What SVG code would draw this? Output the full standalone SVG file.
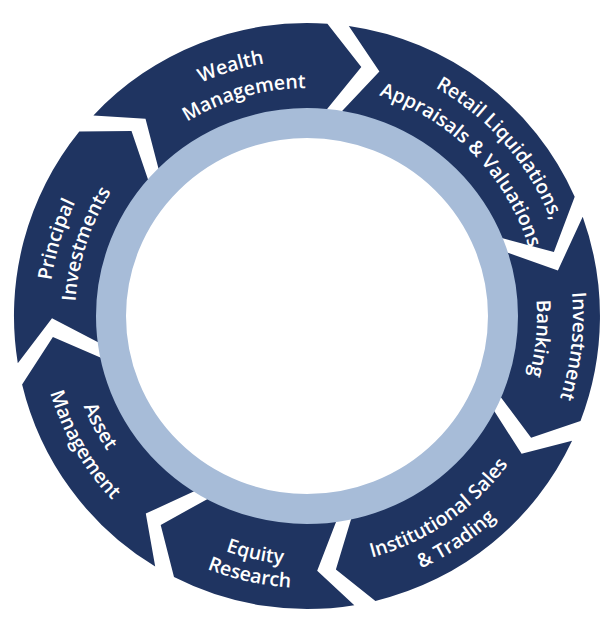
<svg xmlns="http://www.w3.org/2000/svg" width="602" height="619" viewBox="0 0 602 619">
<style>
.seg{fill:#1f3461}
.lbl{fill:#ffffff;font-family:"Open Sans","Liberation Sans",sans-serif;font-weight:600;font-size:19.5px;text-anchor:middle}
.ring{fill:none;stroke:#a7bcd8;stroke-width:30}
</style>
<defs>
<path id="cw256" d="M51,316 A256,256 0 0 1 563,316"/>
<path id="cw228" d="M79,316 A228,228 0 0 1 535,316"/>
<path id="cw262" d="M45,316 A262,262 0 0 1 569,316"/>
<path id="cw232" d="M75,316 A232,232 0 0 1 539,316"/>
<path id="cw266" d="M41,316 A266,266 0 0 1 573,316"/>
<path id="cw230" d="M77,316 A230,230 0 0 1 537,316"/>
<path id="cw258" d="M49,316 A258,258 0 0 1 565,316"/>
<path id="ccw250" d="M57,316 A250,250 0 0 0 557,316"/>
<path id="ccw277" d="M30,316 A277,277 0 0 0 584,316"/>
<path id="ccw249" d="M58,316 A249,249 0 0 0 556,316"/>
<path id="ccw272" d="M35,316 A272,272 0 0 0 579,316"/>
<path id="ccw241" d="M66,316 A241,241 0 0 0 548,316"/>
<path id="ccw268" d="M39,316 A268,268 0 0 0 575,316"/>
</defs>
<g id="wealth-management">
<path class="seg" d="M93.4,115.4 A293,293 0 0 1 327.4,23.7 L361.3,66.9 L321.0,116.5 A200,200 0 0 0 161.2,179.1 L145.5,118.7 Z"/>
<text class="lbl" transform="rotate(-17 307 316)"><textPath href="#cw256" startOffset="50%">Wealth</textPath></text>
<text class="lbl" transform="rotate(-16 307 316)"><textPath href="#cw228" startOffset="50%">Management</textPath></text>
</g>
<g id="retail-liquidations">
<path class="seg" d="M348.8,26.0 A293,293 0 0 1 574.7,196.8 L553.9,252.1 L489.7,234.7 A200,200 0 0 0 335.5,118.0 L379.4,71.5 Z"/>
<text class="lbl" transform="rotate(49 307 316)"><textPath href="#cw262" startOffset="50%">Retail Liquidations,</textPath></text>
<text class="lbl" transform="rotate(45.5 307 316)"><textPath href="#cw232" startOffset="50%">Appraisals &amp; Valuations</textPath></text>
</g>
<g id="investment-banking">
<path class="seg" d="M582.7,216.8 A293,293 0 0 1 580.5,421.0 L531.1,437.7 L493.7,387.7 A200,200 0 0 0 495.2,248.3 L557.9,270.4 Z"/>
<text class="lbl" transform="rotate(96.5 307 316)"><textPath href="#cw266" startOffset="50%">Investment</textPath></text>
<text class="lbl" transform="rotate(95.5 307 316)"><textPath href="#cw230" startOffset="50%">Banking</textPath></text>
</g>
<g id="institutional-sales-trading">
<path class="seg" d="M572.1,440.8 A293,293 0 0 1 375.4,600.9 L335.9,569.4 L353.7,510.5 A200,200 0 0 0 488.0,401.2 L521.6,453.8 Z"/>
<text class="lbl" transform="rotate(-34.3 307 316)"><textPath href="#ccw250" startOffset="50%">Institutional Sales</textPath></text>
<text class="lbl" transform="rotate(-33.7 307 316)"><textPath href="#ccw277" startOffset="50%">&amp; Trading</textPath></text>
</g>
<g id="equity-research">
<path class="seg" d="M354.3,605.2 A293,293 0 0 1 174.0,577.1 L160.7,524.9 L216.2,494.2 A200,200 0 0 0 339.3,513.4 L317.2,570.8 Z"/>
<text class="lbl" transform="rotate(12.3 307 316)"><textPath href="#ccw249" startOffset="50%">Equity</textPath></text>
<text class="lbl" transform="rotate(12.5 307 316)"><textPath href="#ccw272" startOffset="50%">Research</textPath></text>
</g>
<g id="asset-management">
<path class="seg" d="M155.2,566.6 A293,293 0 0 1 22.1,384.4 L52.9,336.9 L112.5,362.7 A200,200 0 0 0 203.4,487.1 L145.8,513.6 Z"/>
<text class="lbl" transform="rotate(62 307 316)"><textPath href="#ccw241" startOffset="50%">Asset</textPath></text>
<text class="lbl" transform="rotate(60 307 316)"><textPath href="#ccw268" startOffset="50%">Management</textPath></text>
</g>
<g id="principal-investments">
<path class="seg" d="M17.8,363.3 A293,293 0 0 1 79.3,131.6 L131.5,131.0 L151.6,190.1 A200,200 0 0 0 109.6,348.3 L52.0,318.2 Z"/>
<text class="lbl" transform="rotate(-73 307 316)"><textPath href="#cw258" startOffset="50%">Principal</textPath></text>
<text class="lbl" transform="rotate(-72 307 316)"><textPath href="#cw232" startOffset="50%">Investments</textPath></text>
</g>
<g id="center-ring">
<ellipse class="ring" cx="307" cy="316" rx="196" ry="193"/>
</g>
</svg>
